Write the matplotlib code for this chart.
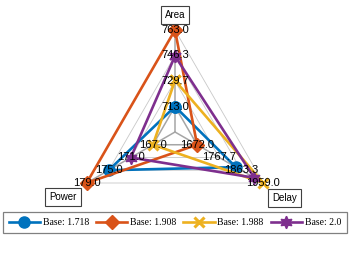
import numpy as np
import matplotlib
matplotlib.use('Agg')
import matplotlib.pyplot as plt

# axes of the spider plot, counterclockwise from the top
axis_names = ['Area', 'Power', 'Delay']
axis_min = [713.0, 167.0, 1672.0]
axis_max = [763.0, 179.0, 1959.0]

# series values: area, power, delay
series_names = ['Base: 1.718', 'Base: 1.908', 'Base: 1.988', 'Base: 2.0']
base_1718 = [713.0, 175.0, 1840.0]
base_1908 = [763.0, 179.0, 1672.0]
base_1988 = [730.0, 167.0, 1959.0]
base_2000 = [746.0, 171.0, 1920.0]

colors = ['#0072BD', '#D95319', '#EDB120', '#7E2F8E']
markers = ['o', 'D', 'x', (6, 1, 0)]
marker_sizes = [8, 7, 6.5, 9]

n_levels = 4
theta = np.deg2rad([90, 210, 330])


def to_radius(values):
    '''Map raw values to radius: minimum on the first ring, maximum on the outer one.'''
    lo = np.array(axis_min)
    hi = np.array(axis_max)
    return 0.25 + 0.75 * (np.array(values) - lo) / (hi - lo)


def to_xy(r):
    r = np.asarray(r)
    return r * np.cos(theta), r * np.sin(theta)


fig = plt.figure(figsize=(3.5, 2.65), dpi=100)
ax = fig.add_axes([0, 0, 1, 1])
R = 102.0
ax.set_xlim(-175 / R, 175 / R)
ax.set_ylim(-(265 - 132) / R, 132 / R)
ax.axis('off')

# web
for k in range(1, n_levels + 1):
    x, y = to_xy(np.full(3, k / n_levels))
    x = np.append(x, x[0])
    y = np.append(y, y[0])
    if k == 1:
        ax.plot(x, y, color='#a6a6a6', lw=1.1, zorder=1)
    else:
        ax.plot(x, y, color='#c8c8c8', lw=0.6, zorder=1)
for t in theta:
    ax.plot([0, np.cos(t)], [0, np.sin(t)], color='#a6a6a6', lw=1.1, zorder=1)

# series
all_series = [base_1718, base_1908, base_1988, base_2000]
for name, vals, c, m, ms in zip(series_names, all_series, colors, markers, marker_sizes):
    x, y = to_xy(to_radius(vals))
    x = np.append(x, x[0])
    y = np.append(y, y[0])
    ax.plot(x, y, color=c, lw=1.9, marker=m, ms=ms, mew=2.2 if m == 'x' else 1,
            label=name, zorder=3)

# tick labels along each axis
for i, t in enumerate(theta):
    ticks = np.linspace(axis_min[i], axis_max[i], n_levels)
    for k, v in enumerate(ticks):
        r = (k + 1) / n_levels
        ax.text(r * np.cos(t), r * np.sin(t), '%.1f' % v, ha='center', va='center',
                fontsize=8, family='Liberation Sans', color='black', zorder=5)

# axis names in boxes
label_r = [1.15, 1.27, 1.25]
label_t = np.deg2rad([90, 210.1, 329])
for name, r, t in zip(axis_names, label_r, label_t):
    ax.text(r * np.cos(t), r * np.sin(t), name, ha='center', va='center',
            fontsize=7, family='Liberation Sans', zorder=6,
            bbox=dict(boxstyle='square,pad=0.4', fc='white', ec='#404040', lw=0.8))

leg = fig.legend(loc='center', ncol=4, mode='expand',
                 bbox_to_anchor=(3 / 350, (265 - 236) / 265, 344 / 350, 27 / 265),
                 prop={'family': 'Liberation Serif', 'size': 7},
                 handlelength=3.2, handletextpad=0.3, fancybox=False,
                 edgecolor='#808080', framealpha=1, borderaxespad=0,
                 borderpad=0.6)
leg.get_frame().set_linewidth(0.9)

fig.savefig('out.png', dpi=100)
